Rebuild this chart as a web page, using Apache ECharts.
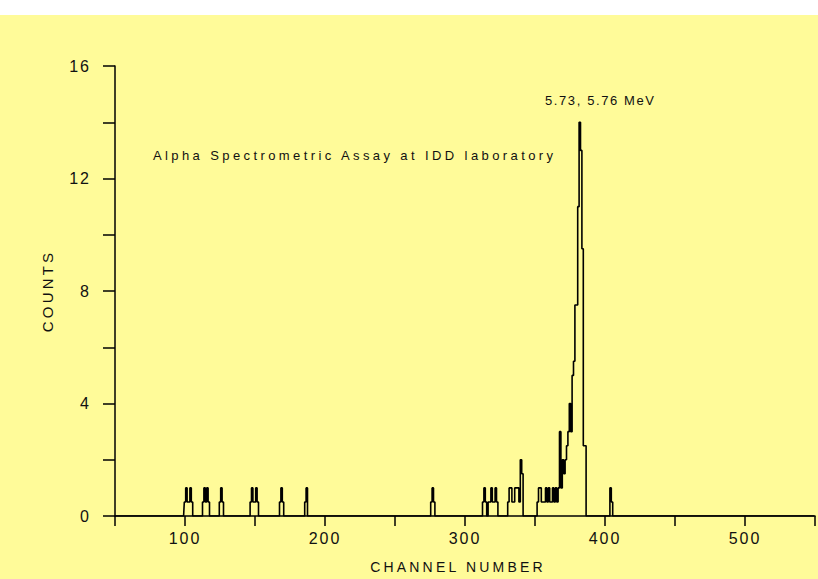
<!DOCTYPE html>
<html><head><meta charset="utf-8">
<script src="https://cdn.jsdelivr.net/npm/echarts@6/dist/echarts.min.js"></script>
<style>
html,body{margin:0;padding:0;background:#fff;width:818px;height:579px;overflow:hidden}
#chart{position:absolute;left:0;top:15px;width:818px;height:564px;background:#fffb99}
</style></head><body><div id="chart"></div>
<script>
// Alpha spectrum: channel numbers with non-zero counts (all other channels are 0)
const channelRange = [50, 550];
const hitChannels = [
  100,101,102,103,104,105,
  113,114,115,116,117,
  125,126,127,
  147,148,149,150,151,152,
  168,169,170,
  186,187,
  276,277,278,
  313,314,315,
  317,318,319,320,321,322,323,
  331,332,333,334,335,336,337,338,339,340,341,
  352,353,354,355,356,357,358,359,360,361,362,363,364,365,366,367,368,369,370,
  371,372,373,374,375,376,377,378,379,380,381,382,383,384,385,386,
  404,405
];
const hitCounts = [
  0.5,1,0.5,0.5,1,0.5,
  0.5,1,0.5,1,0.5,
  0.5,1,0.5,
  0.5,1,0.5,0.5,1,0.5,
  0.5,1,0.5,
  0.5,1,
  0.5,1,0.5,
  0.5,1,0.5,
  0.5,0.5,1,0.5,0.5,1,0.5,
  0.5,1,1,0.5,0.5,1,1,1,0.5,2,1.5,
  0.5,1,1,0.5,0.5,0.5,1,0.5,1,0.5,0.5,1,0.5,1,0.5,1,3,1,2,
  1.5,2,2.5,3,4,3,5,5.5,7.5,7.5,11,14,13,9.5,2.5,2.5,
  1,0.5
];
const xTickLabels = [100, 200, 300, 400, 500];
const yTickLabels = [0, 4, 8, 12, 16];
const xName = 'CHANNEL NUMBER';
const yName = 'COUNTS';
const peakNote = '5.73, 5.76 MeV';
const chartNote = 'Alpha Spectrometric Assay at IDD laboratory';

const countByChannel = {};
hitChannels.forEach((c, i) => { countByChannel[c] = hitCounts[i]; });
const spectrum = [];
for (let c = channelRange[0]; c <= channelRange[1]; c++) {
  spectrum.push([c, countByChannel[c] !== undefined ? countByChannel[c] : 0]);
}

const FONT = '"Liberation Sans", Arial, Helvetica, sans-serif';
const chart = echarts.init(document.getElementById('chart'), null, {renderer: 'svg'});
chart.setOption({
  animation: false,
  backgroundColor: 'transparent',
  grid: {left: 115, right: 2, top: 51, bottom: 59},
  xAxis: {
    type: 'value', min: channelRange[0], max: channelRange[1], interval: 50,
    name: xName, nameLocation: 'middle', nameGap: 44,
    nameTextStyle: {color: '#111', fontSize: 14, fontFamily: FONT, padding: [0, 14, 0, 0]},
    axisLine: {show: true, onZero: false, lineStyle: {color: '#000', width: 1.5}},
    axisTick: {show: true, inside: false, length: 10, lineStyle: {color: '#000', width: 1.5}},
    axisLabel: {color: '#111', fontSize: 16, fontFamily: FONT, margin: 14,
      formatter: v => xTickLabels.indexOf(v) >= 0 ? String(v) : ''},
    splitLine: {show: false}
  },
  yAxis: {
    type: 'value', min: 0, max: 16, interval: 2,
    name: yName, nameLocation: 'middle', nameGap: 60, nameRotate: 90,
    nameTextStyle: {color: '#111', fontSize: 15, fontFamily: FONT},
    axisLine: {show: true, lineStyle: {color: '#000', width: 1.5}},
    axisTick: {show: true, inside: false, length: 12, lineStyle: {color: '#000', width: 1.5}},
    axisLabel: {color: '#111', fontSize: 16, fontFamily: FONT, margin: 24,
      formatter: v => yTickLabels.indexOf(v) >= 0 ? String(v) : ''},
    splitLine: {show: false}
  },
  graphic: [
    {type: 'text', left: 545, top: 79, style: {text: peakNote, fill: '#111', font: '13px ' + FONT}},
    {type: 'text', left: 153, top: 134, style: {text: chartNote, fill: '#111', font: '13px ' + FONT}}
  ],
  series: [{
    type: 'line', step: 'middle', data: spectrum, symbol: 'none',
    lineStyle: {color: '#000', width: 1.6}
  }]
});

function spaceText() {
  document.querySelectorAll('#chart text').forEach(t => {
    const s = t.textContent.trim();
    let ls = '2px';
    if (s === xName) ls = '3.2px';
    else if (s === yName) ls = '3.2px';
    else if (s === chartNote) ls = '3.4px';
    else if (s === peakNote) ls = '1.6px';
    t.style.letterSpacing = ls;
  });
}
spaceText();
chart.on('finished', spaceText);
</script></body></html>
